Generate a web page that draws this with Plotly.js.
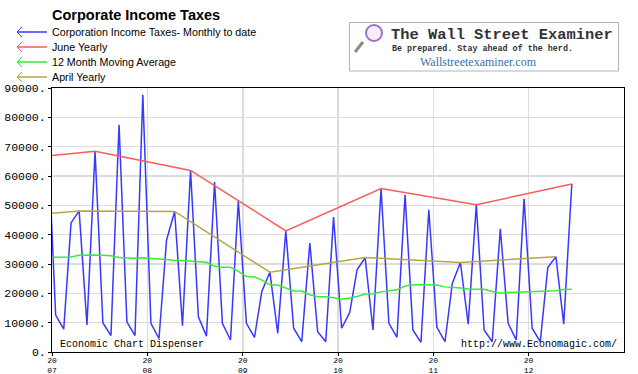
<!DOCTYPE html>
<html><head><meta charset="utf-8">
<script src="https://cdn.plot.ly/plotly-3.0.1.min.js"></script>
<style>html,body{margin:0;padding:0;background:#fff;}#chart{width:638px;height:374px;}</style>
</head><body><div id="chart"></div>
<script>
// ---- data (values in millions of dollars) ----
const months = [
 '2006-12',
 '2007-01','2007-02','2007-03','2007-04','2007-05','2007-06','2007-07','2007-08','2007-09','2007-10','2007-11','2007-12',
 '2008-01','2008-02','2008-03','2008-04','2008-05','2008-06','2008-07','2008-08','2008-09','2008-10','2008-11','2008-12',
 '2009-01','2009-02','2009-03','2009-04','2009-05','2009-06','2009-07','2009-08','2009-09','2009-10','2009-11','2009-12',
 '2010-01','2010-02','2010-03','2010-04','2010-05','2010-06','2010-07','2010-08','2010-09','2010-10','2010-11','2010-12',
 '2011-01','2011-02','2011-03','2011-04','2011-05','2011-06','2011-07','2011-08','2011-09','2011-10','2011-11','2011-12',
 '2012-01','2012-02','2012-03','2012-04','2012-05','2012-06'];
const monthlyTaxes = [
 75000,
 12600, 7800,44000,48100, 9200,68400, 9900, 5600,77500,10300, 5600,87700,
  9800, 4600,38200,47900, 9000,61900,12000, 5400,57900, 9800, 4100,51500,
  9800, 5000,20600,27200, 6400,41300, 8100, 3500,37100, 6900, 3500,46000,
  8100,13500,28000,32200, 7500,55700, 9800, 5000,53600, 7500, 3300,48500,
  8400, 3500,23400,30500, 9500,50200, 7500, 3500,42000, 9800, 4100,52200,
  8100, 3500,28800,32500, 9500,57300];
const movingAvg12 = [
 32300,
 32300,32300,32400,33000,33100,33100,33000,32800,32200,32000,32000,32100,
 31800,31700,31500,31200,31200,31000,30600,30600,29200,28900,28900,27500,
 25700,25600,24500,22900,22800,21700,20800,20800,19500,18800,18800,18500,
 18000,18400,18900,19800,19900,20500,20900,21200,22500,22900,22900,22900,
 22800,22200,22100,21800,21500,21500,21400,20600,20000,20300,20400,20400,
 20400,20500,20800,20900,21300,21400];
const juneMonths = ['2006-06','2007-06','2008-06','2009-06','2010-06','2011-06','2012-06'];
const juneYearly = [65200,68400,61900,41300,55700,50200,57300];
const aprilMonths = ['2006-04','2007-04','2008-04','2009-04','2010-04','2011-04','2012-04'];
const aprilYearly = [45400,48100,47900,27200,32200,30500,32500];
const yearTicks = ['2007','2008','2009','2010','2011','2012'];
const seriesNames = ['Corporation Income Taxes- Monthly to date','June Yearly','12 Month Moving Average','April Yearly'];
const seriesColors = ['#3838ff','#ff5a5a','#33ee33','#b5a642'];

// ---- helpers ----
const mid = m => m + '-15';
const L = 52, R = 624, T = 88, B = 352;
const px = v => (v - L) / (R - L);
const py = v => (B - v) / (B - T);

const traces = [
 {x: months.map(mid), y: monthlyTaxes, name: seriesNames[0], legend: 'legend'},
 {x: juneMonths.map(mid), y: juneYearly, name: seriesNames[1], legend: 'legend2'},
 {x: months.map(mid), y: movingAvg12, name: seriesNames[2], legend: 'legend3'},
 {x: aprilMonths.map(mid), y: aprilYearly, name: seriesNames[3], legend: 'legend4'}
].map((t, i) => Object.assign(t, {type: 'scatter', mode: 'lines', line: {color: seriesColors[i], width: 1.5}, hoverinfo: 'skip'}));

const legendRows = [32, 47, 62, 77];
const legFont = {family: 'Liberation Sans, Arial, sans-serif', size: 10.7, color: '#000'};
const legendKeys = ['legend','legend2','legend3','legend4'];

const layout = {
 width: 638, height: 374,
 margin: {l: L, r: 638 - R, t: T, b: 374 - B, autoexpand: false},
 paper_bgcolor: '#fff', plot_bgcolor: '#fff',
 title: {text: '<b>Corporate Income Taxes</b>', x: 52/638, xanchor: 'left', xref: 'container',
   y: 1 - 15/374, yref: 'container', yanchor: 'middle',
   font: {family: 'Liberation Sans, Arial, sans-serif', size: 14.5, color: '#000'}},
 xaxis: {type: 'date', range: ['2007-01-01', '2013-01-01'],
   tickvals: yearTicks.map(y => y + '-01-01'), ticktext: yearTicks.map(y => y.slice(0,2) + '<br>' + y.slice(2)),
   tickangle: 0,
   showgrid: true, gridcolor: '#dcdcdc', gridwidth: 1.5, zeroline: false,
   showline: true, linecolor: '#000', linewidth: 1, mirror: true,
   ticks: 'outside', ticklen: 3, tickcolor: '#000', ticklabelstandoff: -3,
   tickfont: {family: 'Liberation Mono, monospace', size: 8, color: '#000'}, fixedrange: true},
 yaxis: {range: [0, 90000], tick0: 0, dtick: 10000, tickformat: 'd', ticksuffix: '.',
   showgrid: true, gridcolor: '#dcdcdc', gridwidth: 1.5, zeroline: false,
   showline: true, linecolor: '#000', linewidth: 1, mirror: true,
   ticks: 'outside', ticklen: 3, tickcolor: '#000',
   tickfont: {family: 'Liberation Mono, monospace', size: 11.5, color: '#000'}, fixedrange: true},
 showlegend: true,
 annotations: [
  {text: 'Economic Chart Dispenser', xref: 'paper', yref: 'paper', x: px(58), y: py(344), xanchor: 'left', yanchor: 'middle', showarrow: false,
   font: {family: 'Liberation Mono, monospace', size: 10, color: '#000'}},
  {text: 'http://www.Economagic.com/', xref: 'paper', yref: 'paper', x: px(619), y: py(344), xanchor: 'right', yanchor: 'middle', showarrow: false,
   font: {family: 'Liberation Mono, monospace', size: 10, color: '#000'}},
  {text: '<b>The Wall Street Examiner</b>', xref: 'paper', yref: 'paper', x: px(389), y: py(35), xanchor: 'left', yanchor: 'middle', showarrow: false,
   font: {family: 'Liberation Mono, monospace', size: 15.4, color: '#333'}},
  {text: '<b>Be prepared. Stay ahead of the herd.</b>', xref: 'paper', yref: 'paper', x: px(390), y: py(49), xanchor: 'left', yanchor: 'middle', showarrow: false,
   font: {family: 'Liberation Mono, monospace', size: 8.4, color: '#333'}},
  {text: 'Wallstreetexaminer.com', xref: 'paper', yref: 'paper', x: px(418), y: py(62), xanchor: 'left', yanchor: 'middle', showarrow: false,
   font: {family: 'Liberation Serif, Times New Roman, serif', size: 12, color: '#3a6ea5'}}
 ],
 shapes: [
  {type: 'rect', xref: 'paper', yref: 'paper', x0: px(349.5), x1: px(618.5), y0: py(22.5), y1: py(71), line: {color: '#b4b4b4', width: 1}, fillcolor: 'rgba(0,0,0,0)', layer: 'above'},
  {type: 'line', xref: 'paper', yref: 'paper', x0: px(363), y0: py(42), x1: px(355), y1: py(52), line: {color: '#8a8a8a', width: 3}},
  {type: 'circle', xref: 'paper', yref: 'paper', x0: px(366), x1: px(382), y0: py(25), y1: py(41), line: {color: '#a070c8', width: 2}, fillcolor: '#f6eef8'}
 ]
};
legendKeys.forEach((k, i) => {
 layout[k] = {x: 12/638, xref: 'container', xanchor: 'left', y: 1 - (legendRows[i] - 14.5)/374, yref: 'container', yanchor: 'top',
   font: legFont, bgcolor: 'rgba(0,0,0,0)', borderwidth: 0};
 layout.shapes.push({type: 'path', xref: 'paper', yref: 'paper',
   path: 'M' + px(22) + ',' + py(legendRows[i] - 5) + ' L' + px(17) + ',' + py(legendRows[i]) + ' L' + px(22) + ',' + py(legendRows[i] + 5),
   line: {color: seriesColors[i], width: 1}});
});

Plotly.newPlot('chart', traces, layout, {displayModeBar: false, staticPlot: true});
</script></body></html>
